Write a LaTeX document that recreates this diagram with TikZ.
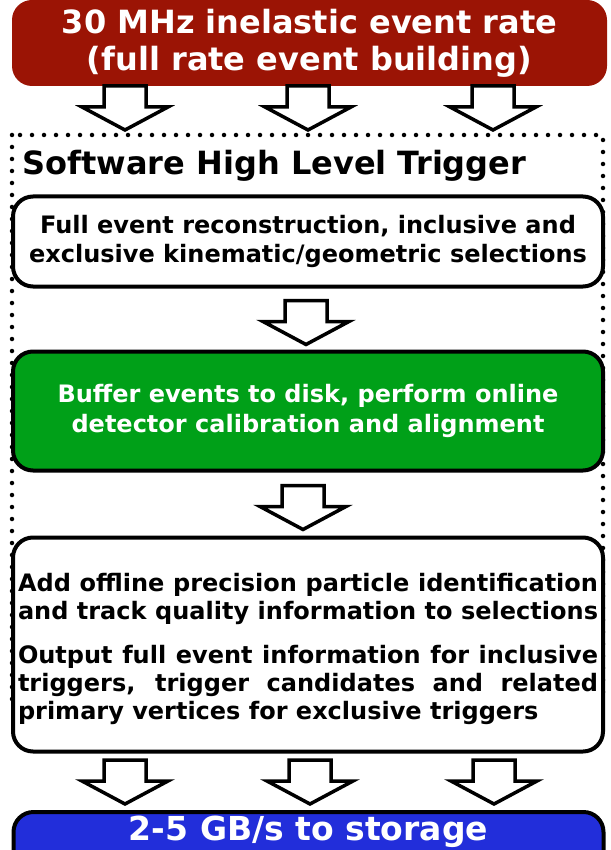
\documentclass[tikz,border=0pt]{standalone}
\usepackage{fontspec}
\setmainfont{DejaVu Sans}
\usetikzlibrary{calc}
\definecolor{boxred}{RGB}{155,20,5}
\definecolor{boxgreen}{RGB}{0,160,24}
\definecolor{boxblue}{RGB}{34,46,218}
\begin{document}
\begin{tikzpicture}[x=1pt,y=1pt,
  box/.style={draw=black, line width=4pt, rounded corners=20pt, inner sep=0pt, fill=white},
  boxtext/.style={font=\bfseries\fontsize{24}{29.5}\selectfont, align=center},
  arrowline/.style={draw=black, fill=white, line width=3.5pt, line join=miter},
  barrow/.pic={\path[arrowline] (-21,44) -- (21,44) -- (21,23) -- (43,23) -- (0,0) -- (-43,23) -- (-21,23) -- cycle;}
]
\useasboundingbox (0,0) rectangle (610,-850);
\clip (0,0) rectangle (610,-850);

% top red box
\node[fill=boxred, rounded corners=20pt, minimum width=595pt, minimum height=86pt, inner sep=0pt,
      text=white, font=\bfseries\fontsize{32}{37}\selectfont, align=center]
  (rate) at (309.5,-43) {30 MHz inelastic event rate\\(full rate event building)};

% dotted frame of the software trigger
\draw[line width=4.5pt, line cap=round, dash pattern=on 0pt off 12pt] (12,-135) rectangle (603,-700);
\node[anchor=base west, font=\bfseries\fontsize{32}{36}\selectfont] (hlt) at (19,-175) {Software High Level Trigger};

% boxes
\node[box, boxtext, minimum width=590pt, minimum height=90pt] (reco) at (308,-241.5)
  {Full event reconstruction, inclusive and\\exclusive kinematic/geometric selections};
\node[box, boxtext, fill=boxgreen, text=white, minimum width=590pt, minimum height=119pt] (buffer) at (308,-411)
  {Buffer events to disk, perform online\\detector calibration and alignment};
\node[box, minimum width=590pt, minimum height=214pt, font=\bfseries\fontsize{24}{28}\selectfont] (offline) at (308,-644.5)
  {\parbox{580pt}{\vspace*{8pt}%
   \makebox[580pt][s]{Add offline precision particle identification}\\
   \makebox[580pt][s]{and track quality information to selections}\\[16pt]
   \makebox[580pt][s]{Output full event information for inclusive}\\
   \makebox[580pt][s]{triggers, trigger candidates and related}\\
   primary vertices for exclusive triggers}};
\node[box, fill=boxblue, text=white, minimum width=590pt, minimum height=70pt, anchor=north] (storage) at (308.5,-810)
  {\raisebox{7pt}[0pt][0pt]{\bfseries\fontsize{33}{36}\selectfont 2-5 GB/s to storage}};

% block arrows
\foreach \x in {125,308,493} \pic at (\x,-130) {barrow};
\pic at ($(reco.south)+(-2,-56)$) {barrow};
\pic at ($(buffer.south)+(-5,-57)$) {barrow};
\foreach \x in {125,310,494} \pic at (\x,-804) {barrow};
\end{tikzpicture}
\end{document}
